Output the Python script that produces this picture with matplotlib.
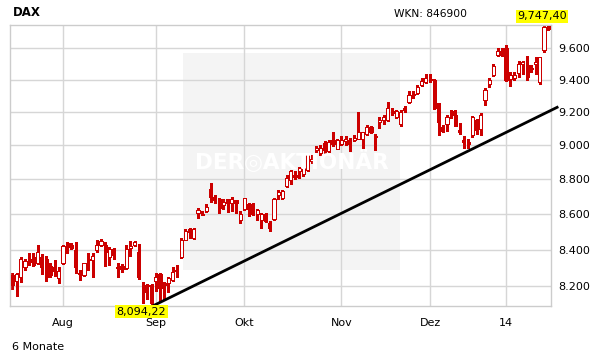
import matplotlib
matplotlib.use('Agg')
import matplotlib.pyplot as plt
from matplotlib.patches import Rectangle
from matplotlib.ticker import FixedLocator, NullLocator, FuncFormatter
import numpy as np

# DAX Tageskerzen 16.07.2013 - 16.01.2014
opens = [8259, 8224, 8246, 8306, 8350, 8361, 8328, 8359, 8347, 8309, 8306, 8241,
         8328, 8434, 8424, 8397, 8273, 8260, 8348, 8343, 8398, 8426, 8426, 8356,
         8402, 8306, 8309, 8297, 8407, 8424, 8384, 8206, 8205, 8205,
         8226, 8264, 8214, 8215, 8232, 8286, 8361, 8454, 8514, 8462, 8606, 8601,
         8616, 8741, 8699, 8688, 8650, 8684, 8665, 8678, 8564,
         8627, 8655, 8655, 8598, 8564, 8598, 8547, 8570, 8707, 8690, 8760, 8795,
         8824, 8851, 8832, 8853, 8910, 8975, 8955, 9014, 8965, 9034, 8981,
         9010, 9024, 9034, 9030, 9038, 9038, 9068, 9108, 9058, 9138, 9154, 9150,
         9205, 9174, 9130, 9225, 9263, 9313, 9318, 9368, 9387,
         9405, 9399, 9256, 9110, 9128, 9209, 9184, 9094, 9034, 9020, 9060, 9150,
         9100, 9276, 9374, 9430, 9556, 9582,
         9598, 9406, 9414, 9443, 9497, 9493, 9476, 9497, 9384, 9587, 9741]
highs = [8270, 8273, 8358, 8347, 8378, 8378, 8424, 8375, 8365, 8328, 8343, 8301,
         8424, 8440, 8434, 8440, 8286, 8323, 8378, 8378, 8452, 8458, 8440, 8413,
         8410, 8328, 8319, 8424, 8448, 8448, 8430, 8219, 8210, 8210,
         8273, 8273, 8219, 8251, 8301, 8314, 8465, 8514, 8521, 8519, 8635, 8615,
         8655, 8780, 8707, 8694, 8684, 8688, 8697, 8678, 8617,
         8693, 8664, 8664, 8631, 8608, 8608, 8561, 8694, 8736, 8736, 8828, 8857,
         8847, 8872, 8886, 8955, 8945, 8998, 9004, 9024, 9034, 9078, 9038,
         9058, 9054, 9047, 9064, 9199, 9080, 9124, 9118, 9068, 9170, 9184, 9260,
         9225, 9215, 9215, 9239, 9331, 9331, 9370, 9408, 9433,
         9433, 9403, 9256, 9124, 9184, 9215, 9215, 9134, 9058, 9040, 9180, 9160,
         9195, 9347, 9409, 9499, 9600, 9598,
         9619, 9447, 9447, 9515, 9518, 9550, 9493, 9543, 9540, 9741, 9747.40]
lows = [8183, 8144, 8219, 8288, 8315, 8309, 8320, 8264, 8224, 8246, 8254, 8215,
        8322, 8378, 8402, 8273, 8232, 8254, 8286, 8246, 8388, 8420, 8309, 8313,
        8350, 8251, 8277, 8290, 8365, 8418, 8240, 8107, 8129, 8094.22,
        8174, 8120, 8129, 8165, 8228, 8250, 8353, 8452, 8467, 8458, 8580, 8592,
        8610, 8670, 8665, 8608, 8631, 8609, 8617, 8608, 8547,
        8621, 8590, 8592, 8566, 8518, 8552, 8505, 8566, 8688, 8688, 8755, 8770,
        8799, 8809, 8818, 8847, 8896, 8960, 8945, 8955, 8959, 8994, 8979,
        9004, 9004, 8967, 9024, 9038, 8985, 9064, 9074, 8973, 9104, 9128, 9144,
        9184, 9164, 9114, 9199, 9259, 9287, 9313, 9362, 9383,
        9388, 9221, 9064, 9078, 9084, 9164, 9114, 9070, 8984, 8985, 9050, 9070,
        9060, 9245, 9355, 9424, 9550, 9550,
        9393, 9360, 9399, 9415, 9437, 9399, 9451, 9437, 9374, 9576, 9715]
closes = [8205, 8264, 8347, 8337, 8331, 8315, 8384, 8304, 8249, 8260, 8279, 8279,
          8418, 8412, 8406, 8304, 8264, 8323, 8341, 8365, 8424, 8445, 8384, 8402,
          8370, 8299, 8292, 8402, 8420, 8440, 8246, 8165, 8199, 8107,
          8250, 8186, 8205, 8242, 8277, 8279, 8452, 8505, 8499, 8514, 8625, 8594,
          8642, 8697, 8680, 8637, 8669, 8661, 8684, 8665, 8598,
          8693, 8627, 8602, 8623, 8598, 8561, 8519, 8688, 8726, 8732, 8809, 8851,
          8814, 8866, 8866, 8949, 8920, 8985, 8985, 8975, 9018, 9010, 9030,
          9034, 9038, 9010, 9044, 9080, 9080, 9108, 9078, 9048, 9154, 9170, 9225,
          9195, 9205, 9199, 9215, 9304, 9307, 9355, 9390, 9412,
          9399, 9225, 9138, 9084, 9170, 9184, 9118, 9078, 9020, 9006, 9170, 9090,
          9184, 9337, 9399, 9486, 9582, 9556,
          9396, 9431, 9430, 9500, 9512, 9419, 9466, 9512, 9540, 9733, 9720]

month_pos = [12, 34, 55, 78, 99, 117]
month_labels = ['Aug', 'Sep', 'Okt', 'Nov', 'Dez', '14']
price_ticks = [8200, 8400, 8600, 8800, 9000, 9200, 9400, 9600]

# Trendlinie (Start am Tief, endet rechts ausserhalb)
trend_x = [33.5, 129.1]
trend_y = [8094.22, 9230]

W, H = 611, 364
red = '#cc0000'

fig = plt.figure(figsize=(W / 100, H / 100), dpi=100)
fig.patch.set_facecolor('white')
ax = fig.add_axes([10 / W, 1 - 305.5 / H, 541 / W, 280.5 / H])
ax.set_yscale('log')
ax.set_ylim(min(lows), max(highs))
ax.set_xlim(-0.55, 127.65)

# grauer Kasten mit Wasserzeichen
ax.add_patch(Rectangle((183 / W, 1 - 270 / H), 217 / W, 217.3 / H,
                       transform=fig.transFigure, facecolor='#f4f4f4',
                       edgecolor='none', zorder=0.1))
fig.text(292 / W, 1 - 162 / H, 'DER\u25CEAKTIONÄR', color='white', fontsize=15.5,
         fontweight='bold', ha='center', va='center', zorder=0.2)

ax.set_axisbelow(True)
ax.grid(True, color='#d6d6d6', lw=1)

x = np.arange(len(closes))
o = np.array(opens)
c = np.array(closes)
up = c >= o
ax.vlines(x, lows, highs, color=red, lw=0.8, zorder=2, antialiased=False)
ax.bar(x, np.abs(c - o), bottom=np.minimum(o, c), width=0.74,
       facecolor=np.where(up, 'white', red), edgecolor=red, lw=0.7, zorder=3,
       antialiased=False)

ax.plot(trend_x, trend_y, color='black', lw=2, clip_on=False, zorder=4)

ax.xaxis.set_major_locator(FixedLocator(month_pos))
ax.set_xticklabels(month_labels)
ax.yaxis.set_major_locator(FixedLocator(price_ticks))
ax.yaxis.set_minor_locator(NullLocator())
ax.yaxis.set_major_formatter(FuncFormatter(lambda v, p: f'{v:,.0f}'.replace(',', '.')))
ax.yaxis.tick_right()
ax.tick_params(axis='both', length=0, labelsize=8, colors='black')
ax.tick_params(axis='x', pad=9)
ax.tick_params(axis='y', pad=5)
for s in ax.spines.values():
    s.set_color('#cccccc')
    s.set_linewidth(1)

fig.text(12.5 / W, 1 - 13 / H, 'DAX', fontsize=8.5, fontweight='bold', va='center')
fig.text(467 / W, 1 - 14 / H, 'WKN: 846900', fontsize=7.7, ha='right', va='center')
fig.text(12 / W, 1 - 347 / H, '6 Monate', fontsize=8, va='center')

fig.text(542 / W, 1 - 16.5 / H, '9,747,40', fontsize=8, ha='center', va='center',
         bbox=dict(facecolor='#ffff00', edgecolor='none', pad=1.0))
fig.text(141.5 / W, 1 - 311.5 / H, '8,094,22', fontsize=8, ha='center', va='center',
         bbox=dict(facecolor='#ffff00', edgecolor='none', pad=1.0))

fig.savefig('out.png', dpi=100)
